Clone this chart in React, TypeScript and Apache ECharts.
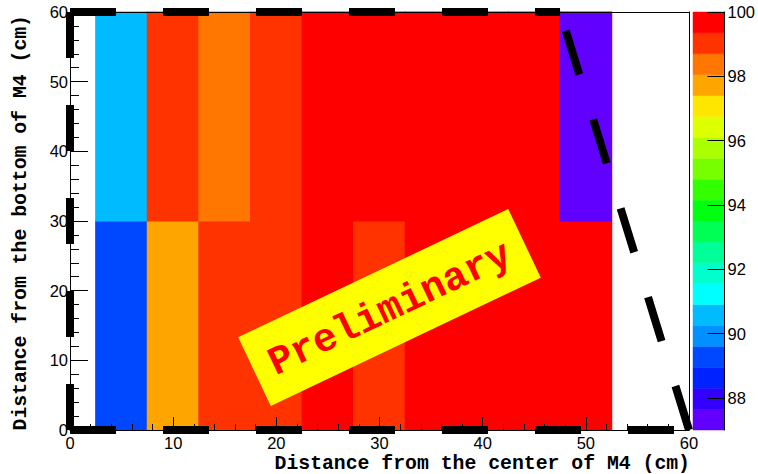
import React, { useEffect, useRef } from "react";
import * as echarts from "echarts";

// Efficiency map of the M4 quadrant, 5 cm x 30 cm bins
const zMin = 87;
const zMax = 100;
const nContours = 20;
// rainbow palette, lowest contour first
const palette = [
  "#6200ff", "#3300ff", "#0022ff", "#0048ff", "#0090ff",
  "#00bbff", "#00ffff", "#00ffcc", "#00ff99", "#00ff55",
  "#00ff11", "#33ff00", "#77ff00", "#aaff00", "#ddff00",
  "#ffe600", "#ffa500", "#ff7700", "#ff3300", "#ff0000",
];

const xCenters = [5, 10, 15, 20, 25, 30, 35, 40, 45, 50];
const yCenters = [15, 45];
const binWidthX = 5;
const binWidthY = 30;
const lowerRow = [89.3, 97.7, 99.0, 99.0, 100, 99.0, 100, 100, 100, 100];
const upperRow = [90.6, 99.0, 98.4, 99.0, 100, 100, 100, 100, 100, 87.3];

const colorbarTicks = [88, 90, 92, 94, 96, 98, 100];

// outline of the instrumented region (cm)
const outlineBottom = [[0, 0], [60, 0]];
const outlineLeft = [[0, 0], [0, 60]];
const outlineTop = [[0, 60], [47.5, 60]];
const outlineSlope = [[60, 0], [47.5, 60]];

const contourIndex = (v: number) =>
  Math.min(nContours - 1, Math.max(0, Math.floor(((v - zMin) / (zMax - zMin)) * nContours)));

const App: React.FC = () => {
  const ref = useRef<HTMLDivElement>(null);

  useEffect(() => {
    if (!ref.current) return;
    const chart = echarts.init(ref.current, null, { renderer: "svg" });

    const cells: number[][] = [];
    [lowerRow, upperRow].forEach((row, j) => {
      row.forEach((v, i) => cells.push([xCenters[i], yCenters[j], v]));
    });

    const step = (zMax - zMin) / nContours;
    const bands = palette.map((_, k) => [zMin + k * step, zMin + (k + 1) * step, k]);

    const labelFont = { fontFamily: "Liberation Sans", fontSize: 16.5, color: "#000" };
    const dashStyle = { color: "#000", width: 8, type: [46, 47] as number[], cap: "butt" as const };
    const outline = (data: number[][]) => ({
      type: "line" as const,
      xAxisIndex: 0,
      yAxisIndex: 0,
      data,
      symbol: "none",
      clip: false,
      silent: true,
      lineStyle: dashStyle,
      z: 5,
    });

    chart.setOption({
      animation: false,
      backgroundColor: "#fff",
      grid: [
        { left: 70, top: 12, width: 619, height: 418, show: false },
        { left: 693, top: 12, width: 34, height: 418, show: false },
      ],
      xAxis: [
        {
          type: "value", gridIndex: 0, min: 0, max: 60, interval: 10, z: 4,
          axisLine: { show: true, lineStyle: { color: "#000", width: 1 } },
          axisTick: { show: true, inside: true, length: 13, lineStyle: { color: "#000" } },
          minorTick: { show: true, splitNumber: 5, length: 6, lineStyle: { color: "#000" } },
          axisLabel: { ...labelFont, margin: 4 },
          splitLine: { show: false },
        },
        {
          type: "value", gridIndex: 0, min: 0, max: 60, position: "top", z: 4,
          axisLine: { show: true, onZero: false, lineStyle: { color: "#000", width: 1 } },
          axisTick: { show: false }, axisLabel: { show: false }, splitLine: { show: false },
        },
        {
          type: "value", gridIndex: 1, min: 0, max: 1, show: false,
        },
      ],
      yAxis: [
        {
          type: "value", gridIndex: 0, min: 0, max: 60, interval: 10, z: 4,
          axisLine: { show: true, lineStyle: { color: "#000", width: 1 } },
          axisTick: { show: true, inside: true, length: 18, lineStyle: { color: "#000" } },
          minorTick: { show: true, splitNumber: 5, length: 9, lineStyle: { color: "#000" } },
          axisLabel: { ...labelFont, margin: 2, padding: [5, 0, 0, 0] },
          splitLine: { show: false },
        },
        {
          type: "value", gridIndex: 0, min: 0, max: 60, position: "right", z: 4,
          axisLine: { show: true, onZero: false, lineStyle: { color: "#000", width: 1 } },
          axisTick: { show: false }, axisLabel: { show: false }, splitLine: { show: false },
        },
        {
          type: "value", gridIndex: 1, min: zMin, max: zMax, position: "right", z: 4,
          axisLine: { show: true, onZero: false, lineStyle: { color: "#000", width: 1 } },
          axisTick: { show: true, inside: true, length: 17, customValues: colorbarTicks, lineStyle: { color: "#000" } },
          axisLabel: { ...labelFont, margin: 3, padding: [5, 0, 0, 0], customValues: colorbarTicks },
          splitLine: { show: false },
        },
      ],
      series: [
        {
          type: "custom",
          xAxisIndex: 0,
          yAxisIndex: 0,
          data: cells,
          encode: { x: 0, y: 1 },
          silent: true,
          renderItem: (params: any, api: any) => {
            const x = api.value(0);
            const y = api.value(1);
            const v = api.value(2);
            const p0 = api.coord([x - binWidthX / 2, y + binWidthY / 2]);
            const p1 = api.coord([x + binWidthX / 2, y - binWidthY / 2]);
            const c = palette[contourIndex(v)];
            return {
              type: "rect",
              shape: { x: p0[0], y: p0[1], width: p1[0] - p0[0], height: p1[1] - p0[1] },
              style: { fill: c, stroke: c, lineWidth: 1.2 },
            };
          },
        },
        {
          type: "custom",
          xAxisIndex: 2,
          yAxisIndex: 2,
          data: bands,
          silent: true,
          renderItem: (params: any, api: any) => {
            const lo = api.value(0);
            const hi = api.value(1);
            const k = api.value(2);
            const p0 = api.coord([0, hi]);
            const p1 = api.coord([1, lo]);
            return {
              type: "rect",
              shape: { x: p0[0], y: p0[1], width: p1[0] - p0[0], height: p1[1] - p0[1] },
              style: { fill: palette[k], stroke: palette[k], lineWidth: 0.5 },
            };
          },
        },
        outline(outlineBottom),
        outline(outlineLeft),
        outline(outlineTop),
        outline(outlineSlope),
      ],
      graphic: [
        {
          type: "text",
          x: 690,
          y: 464,
          z: 100,
          style: {
            text: "Distance from the center of M4 (cm)",
            align: "right",
            verticalAlign: "middle",
            font: 'bold 19.8px "Liberation Mono"',
            fill: "#000",
          },
        },
        {
          type: "text",
          x: 21,
          y: 15,
          rotation: Math.PI / 2,
          z: 100,
          style: {
            text: "Distance from the bottom of M4 (cm)",
            align: "right",
            verticalAlign: "middle",
            font: 'bold 19.8px "Liberation Mono"',
            fill: "#000",
          },
        },
        {
          type: "group",
          x: 389.5,
          y: 307.5,
          rotation: (25.4 * Math.PI) / 180,
          z: 100,
          children: [
            {
              type: "rect",
              z: 100,
              shape: { x: -149.5, y: -38, width: 299, height: 76 },
              style: { fill: "#ffff00" },
            },
            {
              type: "text",
              z: 101,
              x: 0,
              y: 2,
              style: {
                text: "Preliminary",
                align: "center",
                verticalAlign: "middle",
                font: 'bold 40px "Liberation Mono"',
                fill: "#ff0000",
              },
            },
          ],
        },
      ],
    });

    return () => chart.dispose();
  }, []);

  return (
    <div
      ref={ref}
      style={{ position: "fixed", left: 0, top: 0, width: 758, height: 474, background: "#fff" }}
    />
  );
};

export default App;
